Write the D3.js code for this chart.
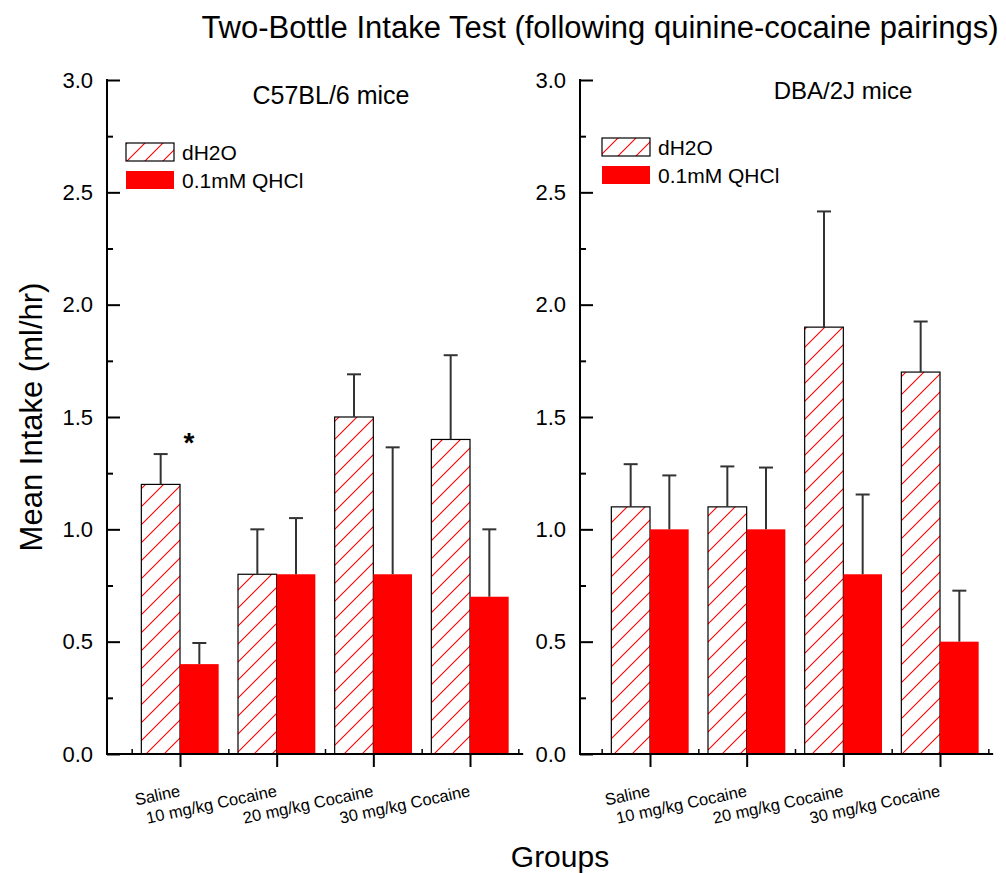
<!DOCTYPE html>
<html>
<head>
<meta charset="utf-8">
<script src="https://cdn.jsdelivr.net/npm/d3@7"></script>
<style>
  html, body { margin: 0; padding: 0; background: #fff; }
  svg { display: block; font-family: "Liberation Sans", Arial, Helvetica, sans-serif; }
</style>
</head>
<body>
<svg id="chart" width="1006" height="873"></svg>
<script>
// Groups on the x axis
const groups = ["Saline", "10 mg/kg Cocaine", "20 mg/kg Cocaine", "30 mg/kg Cocaine"];
const seriesNames = ["dH2O", "0.1mM QHCl"];

// C57BL/6 mice: means and upper error (SEM) values, ml/hr
const c57Water = [1.2, 0.8, 1.5, 1.4];
const c57WaterErr = [0.135, 0.2, 0.19, 0.375];
const c57Quinine = [0.4, 0.8, 0.8, 0.7];
const c57QuinineErr = [0.094, 0.25, 0.565, 0.3];

// DBA/2J mice
const dbaWater = [1.1, 1.1, 1.9, 1.7];
const dbaWaterErr = [0.19, 0.18, 0.515, 0.225];
const dbaQuinine = [1.0, 1.0, 0.8, 0.5];
const dbaQuinineErr = [0.24, 0.275, 0.355, 0.227];

const yTicks = [0, 0.5, 1.0, 1.5, 2.0, 2.5, 3.0];
const yMinorTicks = [0.25, 0.75, 1.25, 1.75, 2.25, 2.75];

const svg = d3.select("#chart");
const RED = "#ff0000";

// diagonal red hatch used for the water bars
const defs = svg.append("defs");
const pat = defs.append("pattern")
  .attr("id", "hatch")
  .attr("patternUnits", "userSpaceOnUse")
  .attr("width", 18).attr("height", 18);
pat.append("rect").attr("width", 18).attr("height", 18).attr("fill", "#fff");
pat.append("path")
  .attr("d", "M0,18 L18,0 M-4.5,4.5 L4.5,-4.5 M13.5,22.5 L22.5,13.5")
  .attr("stroke", RED).attr("stroke-width", 1.1);

const y = d3.scaleLinear().domain([0, 3]).range([754, 80]);

function panel(opts) {
  const x = d3.scaleLinear().domain([1, 4]).range(opts.range);
  const g = svg.append("g");
  const x0 = opts.axisX;
  const xEnd = x(4.55);
  const barW = x(1.4) - x(1);

  // bars: water (hatched) left of the group centre, quinine (solid) right of it
  groups.forEach((name, i) => {
    const c = x(i + 1);
    g.append("rect")
      .attr("x", c - barW).attr("y", y(opts.water[i]))
      .attr("width", barW).attr("height", y(0) - y(opts.water[i]))
      .attr("fill", "url(#hatch)").attr("stroke", "#000").attr("stroke-width", 1.2);
    g.append("rect")
      .attr("x", c).attr("y", y(opts.quinine[i]))
      .attr("width", barW).attr("height", y(0) - y(opts.quinine[i]))
      .attr("fill", RED);
  });

  // upper error bars
  const errs = [];
  groups.forEach((name, i) => {
    const c = x(i + 1);
    errs.push({ cx: c - barW / 2, v: opts.water[i], e: opts.waterErr[i] });
    errs.push({ cx: c + barW / 2, v: opts.quinine[i], e: opts.quinineErr[i] });
  });
  errs.forEach(d => {
    g.append("line")
      .attr("x1", d.cx).attr("x2", d.cx)
      .attr("y1", y(d.v)).attr("y2", y(d.v + d.e))
      .attr("stroke", "#333").attr("stroke-width", 2);
    g.append("line")
      .attr("x1", d.cx - 7).attr("x2", d.cx + 7)
      .attr("y1", y(d.v + d.e)).attr("y2", y(d.v + d.e))
      .attr("stroke", "#333").attr("stroke-width", 2);
  });

  // y axis with inward ticks
  const yAxis = g.append("g").attr("transform", `translate(${x0},0)`)
    .call(d3.axisLeft(y).tickValues(yTicks).tickSize(-13).tickPadding(14)
      .tickFormat(d3.format(".1f")));
  yAxis.select(".domain").remove();
  yAxis.selectAll(".tick line").attr("stroke", "#000").attr("stroke-width", 2);
  yAxis.selectAll(".tick text").attr("font-size", 22).attr("fill", "#000")
    .attr("font-family", "Liberation Sans, Arial, sans-serif");
  const yMinor = g.append("g").attr("transform", `translate(${x0},0)`)
    .call(d3.axisLeft(y).tickValues(yMinorTicks).tickSize(-6).tickFormat(""));
  yMinor.select(".domain").remove();
  yMinor.selectAll(".tick line").attr("stroke", "#000").attr("stroke-width", 2);

  // x axis: group ticks outward, minor ticks inward
  const xAxis = g.append("g").attr("transform", `translate(0,${y(0)})`)
    .call(d3.axisBottom(x).tickValues([1, 2, 3, 4]).tickSize(13).tickFormat(""));
  xAxis.select(".domain").remove();
  xAxis.selectAll(".tick line").attr("stroke", "#000").attr("stroke-width", 2);
  const xMinor = g.append("g").attr("transform", `translate(0,${y(0)})`)
    .call(d3.axisBottom(x).tickValues([0.5, 1.5, 2.5, 3.5, 4.5]).tickSize(-5).tickFormat(""));
  xMinor.select(".domain").remove();
  xMinor.selectAll(".tick line").attr("stroke", "#000").attr("stroke-width", 1.5);

  // axis lines
  g.append("line").attr("x1", x0).attr("x2", x0).attr("y1", y(3) - 1).attr("y2", y(0) + 1)
    .attr("stroke", "#000").attr("stroke-width", 2);
  g.append("line").attr("x1", x0).attr("x2", xEnd).attr("y1", y(0)).attr("y2", y(0))
    .attr("stroke", "#000").attr("stroke-width", 2);

  // slanted group labels
  groups.forEach((name, i) => {
    g.append("text")
      .attr("transform", `translate(${x(i + 1) + 1},796) rotate(-12)`)
      .attr("text-anchor", "end").attr("font-size", 16.5).attr("fill", "#000")
      .text(name);
  });

  // panel title
  g.append("text").attr("x", opts.titleX).attr("y", opts.titleY)
    .attr("text-anchor", "middle").attr("font-size", opts.titleSize).text(opts.title);

  // legend
  const L = opts.legend;
  g.append("rect").attr("x", L.x).attr("y", L.y).attr("width", 48).attr("height", 18)
    .attr("fill", "url(#hatch)").attr("stroke", "#000").attr("stroke-width", 1.2);
  g.append("text").attr("x", L.x + 56).attr("y", L.y + 17).attr("font-size", 21).text(seriesNames[0]);
  g.append("rect").attr("x", L.x).attr("y", L.y + 28).attr("width", 48).attr("height", 18)
    .attr("fill", RED);
  g.append("text").attr("x", L.x + 56).attr("y", L.y + 45).attr("font-size", 21).text(seriesNames[1]);

  return { x, g };
}

const left = panel({
  range: [180, 470], axisX: 107,
  water: c57Water, waterErr: c57WaterErr, quinine: c57Quinine, quinineErr: c57QuinineErr,
  title: "C57BL/6 mice", titleX: 331, titleY: 104, titleSize: 25,
  legend: { x: 126, y: 143 }
});

const right = panel({
  range: [650, 940], axisX: 580,
  water: dbaWater, waterErr: dbaWaterErr, quinine: dbaQuinine, quinineErr: dbaQuinineErr,
  title: "DBA/2J mice", titleX: 843, titleY: 99, titleSize: 24,
  legend: { x: 602, y: 138 }
});

// significance marker on the saline group
left.g.append("text")
  .attr("x", left.x(1) + 9).attr("y", 452)
  .attr("text-anchor", "middle").attr("font-size", 28).attr("font-weight", "bold").text("*");

// overall title and axis titles
svg.append("text").attr("x", 600).attr("y", 38).attr("text-anchor", "middle")
  .attr("font-size", 31).text("Two-Bottle Intake Test (following quinine-cocaine pairings)");
svg.append("text").attr("x", 560).attr("y", 867).attr("text-anchor", "middle")
  .attr("font-size", 30).text("Groups");
svg.append("text").attr("transform", "translate(42,417) rotate(-90)")
  .attr("text-anchor", "middle").attr("font-size", 31).text("Mean Intake (ml/hr)");
</script>
</body>
</html>
